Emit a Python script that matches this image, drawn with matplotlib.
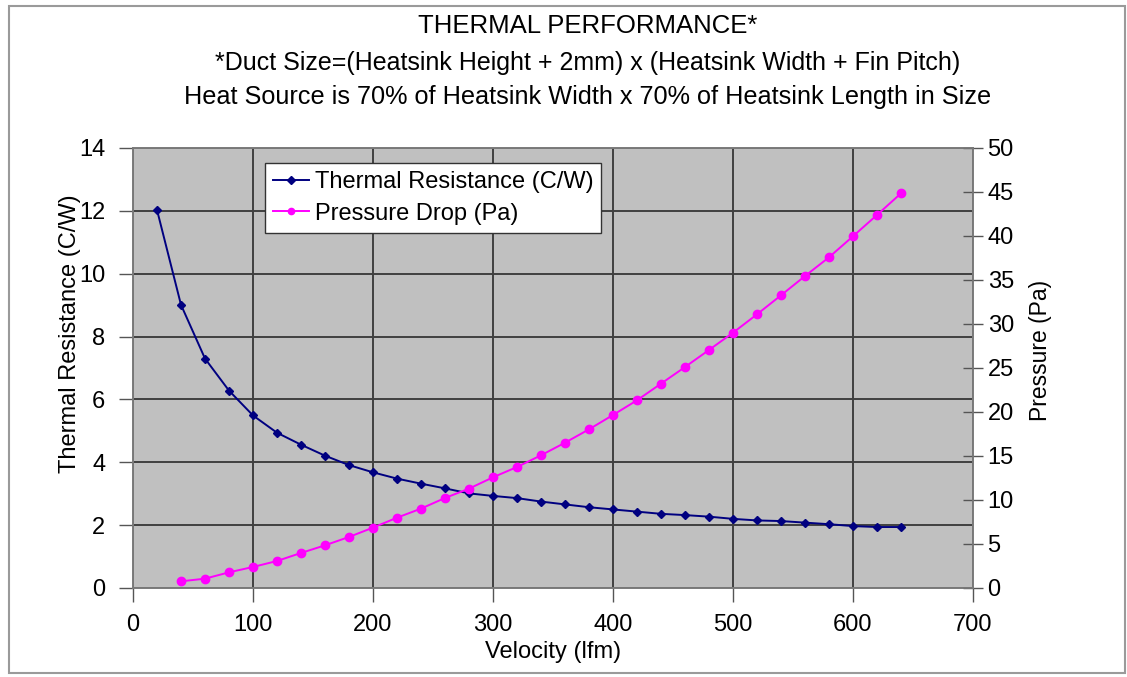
"""Thermal performance chart: thermal resistance and pressure drop vs velocity."""
import matplotlib
matplotlib.use("Agg")
import matplotlib.pyplot as plt
from matplotlib.patches import Rectangle

plt.rcParams['font.family'] = ['Liberation Sans', 'DejaVu Sans']

# Thermal resistance series (C/W)
tr_velocity = [20, 40, 60, 80, 100, 120, 140, 160, 180, 200, 220, 240, 260, 280,
               300, 320, 340, 360, 380, 400, 420, 440, 460, 480, 500, 520, 540,
               560, 580, 600, 620, 640]
tr_values = [12.03, 9.01, 7.30, 6.28, 5.49, 4.94, 4.56, 4.21, 3.91, 3.68, 3.48,
             3.32, 3.17, 3.01, 2.93, 2.86, 2.75, 2.66, 2.57, 2.50, 2.43, 2.36,
             2.32, 2.27, 2.20, 2.15, 2.13, 2.08, 2.03, 1.97, 1.94, 1.94]

# Pressure drop series (Pa)
pd_velocity = [40, 60, 80, 100, 120, 140, 160, 180, 200, 220, 240, 260, 280, 300,
               320, 340, 360, 380, 400, 420, 440, 460, 480, 500, 520, 540, 560,
               580, 600, 620, 640]
pd_values = [0.76, 1.06, 1.78, 2.39, 3.07, 3.98, 4.85, 5.80, 6.86, 7.99, 9.02,
             10.23, 11.29, 12.58, 13.75, 15.08, 16.51, 18.03, 19.66, 21.33,
             23.22, 25.11, 27.05, 29.01, 31.10, 33.26, 35.45, 37.58, 39.97,
             42.39, 44.85]

title_lines = [
    "THERMAL PERFORMANCE*",
    "*Duct Size=(Heatsink Height + 2mm) x (Heatsink Width + Fin Pitch)",
    "Heat Source is 70% of Heatsink Width x 70% of Heatsink Length in Size",
]

W, H = 1127, 677
fig = plt.figure(figsize=(W / 100, H / 100), dpi=100)
fig.set_facecolor('white')

# outer chart border
fig.patches.append(Rectangle((9 / W, 1 - 673 / H), (1125 - 9) / W, (673 - 6) / H,
                             transform=fig.transFigure, fill=False,
                             edgecolor='#9a9a9a', linewidth=1.5))

ax = fig.add_axes([133 / W, 1 - 588 / H, (973 - 133) / W, (588 - 148) / H])
ax.set_facecolor('#c0c0c0')
ax2 = ax.twinx()

ax.plot(tr_velocity, tr_values, color='#000080', linewidth=1.4, marker='D',
        markersize=4.5, label='Thermal Resistance (C/W)', zorder=3)
ax2.plot(pd_velocity, pd_values, color='#ff00ff', linewidth=1.4, marker='o',
         markersize=6, label='Pressure Drop (Pa)', zorder=3)

ax.set_xlim(0, 700)
ax.set_ylim(0, 14)
ax2.set_ylim(0, 50)
ax.set_xticks(range(0, 701, 100))
ax.set_yticks(range(0, 15, 2))
ax2.set_yticks(range(0, 51, 5))

ax.grid(True, color='#404040', linewidth=1.4)
ax.set_axisbelow(True)

for a in (ax, ax2):
    for s in a.spines.values():
        s.set_color('#7a7a7a')
        s.set_linewidth(1.2)

ax.tick_params(axis='both', labelsize=17, length=10, width=1, color='#555555',
               direction='out')
ax.tick_params(axis='x', pad=9)
ax.tick_params(axis='y', pad=10)
ax2.tick_params(axis='y', labelsize=17, length=15, width=1, color='#555555',
                direction='inout', pad=3)

fig.text(70 / W, 1 - 334 / H, 'Thermal Resistance (C/W)', rotation=90,
         ha='center', va='center', fontsize=17)
fig.text(1041 / W, 1 - 350 / H, 'Pressure (Pa)', rotation=90,
         ha='center', va='center', fontsize=16.5)
fig.text(553 / W, 1 - 652 / H, 'Velocity (lfm)', ha='center', va='center',
         fontsize=17)

title_sizes = [18.5, 18, 18.2]
for y_px, line, fs in zip([26, 63, 97], title_lines, title_sizes):
    fig.text(588 / W, 1 - y_px / H, line, ha='center', va='center', fontsize=fs)

h1, l1 = ax.get_legend_handles_labels()
h2, l2 = ax2.get_legend_handles_labels()
leg = ax2.legend(h1 + h2, l1 + l2, loc='upper left',
                 bbox_to_anchor=((265 - 133) / 840, 1 - (163 - 148) / 440),
                 fontsize=17, frameon=True, fancybox=False, framealpha=1,
                 edgecolor='#333333', borderpad=0.35, handlelength=1.5,
                 handletextpad=0.25, labelspacing=0.4, borderaxespad=0)
leg.get_frame().set_linewidth(1.0)
for h in leg.legend_handles:
    h.set_markersize(4.5)

fig.savefig('out.png', dpi=100, facecolor='white')
plt.close(fig)
